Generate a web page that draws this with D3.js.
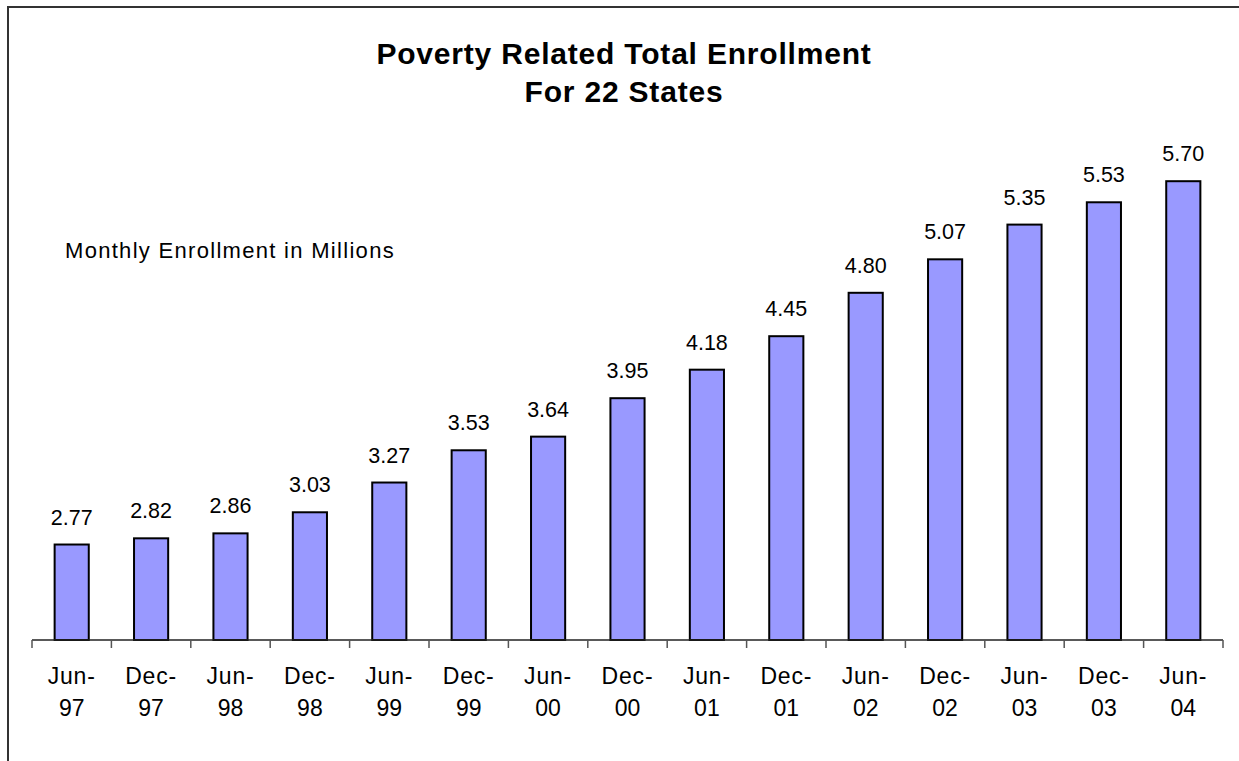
<!DOCTYPE html>
<html>
<head>
<meta charset="utf-8">
<script src="https://cdn.jsdelivr.net/npm/d3@7"></script>
<style>
body{margin:0;background:#fff;}
text{font-family:Arial,"Liberation Sans",sans-serif;fill:#000;}
</style>
</head>
<body>
<div id="chart"></div>
<script>
var months=["Jun-","Dec-","Jun-","Dec-","Jun-","Dec-","Jun-","Dec-","Jun-","Dec-","Jun-","Dec-","Jun-","Dec-","Jun-"];
var years=["97","97","98","98","99","99","00","00","01","01","02","02","03","03","04"];
var enrollment=[2.77,2.82,2.86,3.03,3.27,3.53,3.64,3.95,4.18,4.45,4.80,5.07,5.35,5.53,5.70];
var yDomain=[2,6];
var titleLines=["Poverty Related Total Enrollment","For 22 States"];
var unitLabel="Monthly Enrollment in Millions";

var W=1239,H=761;
var x0=32,x1=1223,baseY=640,topY=144;
var barColor="#9999ff";

var svg=d3.select("#chart").append("svg").attr("width",W).attr("height",H);

// frame (top + left only)
svg.append("line").attr("x1",7).attr("x2",W).attr("y1",7).attr("y2",7)
	.attr("stroke","#333").attr("stroke-width",2);
svg.append("line").attr("x1",8).attr("x2",8).attr("y1",6).attr("y2",H)
	.attr("stroke","#333").attr("stroke-width",2);

var idx=d3.range(enrollment.length);
var xScale=d3.scaleBand().domain(idx).range([x0,x1]).padding(0);
var yScale=d3.scaleLinear().domain(yDomain).range([baseY,topY]);
var barW=xScale.bandwidth()*0.43;

// bars
svg.selectAll("rect.bar").data(enrollment).enter().append("rect")
	.attr("class","bar")
	.attr("x",function(d,i){return xScale(i)+xScale.bandwidth()/2-barW/2;})
	.attr("y",function(d){return yScale(d);})
	.attr("width",barW)
	.attr("height",function(d){return baseY-yScale(d);})
	.attr("fill",barColor).attr("stroke","#000").attr("stroke-width",2);

// value labels
svg.selectAll("text.val").data(enrollment).enter().append("text")
	.attr("class","val")
	.attr("x",function(d,i){return xScale(i)+xScale.bandwidth()/2;})
	.attr("y",function(d){return yScale(d)-20;})
	.attr("text-anchor","middle").attr("font-size",21.5)
	.text(function(d){return d.toFixed(2);});

// x axis
svg.append("line").attr("x1",x0).attr("x2",x1).attr("y1",baseY).attr("y2",baseY)
	.attr("stroke","#222").attr("stroke-width",1.5);
var tickPos=idx.map(function(i){return xScale(i);}).concat([x1]);
svg.selectAll("line.tick").data(tickPos).enter().append("line")
	.attr("class","tick")
	.attr("x1",function(d){return d;}).attr("x2",function(d){return d;})
	.attr("y1",baseY).attr("y2",baseY+8)
	.attr("stroke","#555").attr("stroke-width",1.5);

var xl=svg.selectAll("text.xl").data(idx).enter().append("text")
	.attr("class","xl")
	.attr("text-anchor","middle").attr("font-size",23);
xl.append("tspan")
	.attr("x",function(i){return xScale(i)+xScale.bandwidth()/2;})
	.attr("y",684)
	.attr("letter-spacing",0.8)
	.text(function(i){return months[i];});
xl.append("tspan")
	.attr("x",function(i){return xScale(i)+xScale.bandwidth()/2;})
	.attr("y",716)
	.text(function(i){return years[i];});

// title
svg.selectAll("text.title").data(titleLines).enter().append("text")
	.attr("class","title")
	.attr("x",624).attr("y",function(d,i){return 64+i*38;})
	.attr("text-anchor","middle").attr("font-size",30).attr("font-weight","bold")
	.attr("letter-spacing",0.8)
	.text(function(d){return d;});

svg.append("text").attr("x",65).attr("y",258)
	.attr("font-size",22).attr("letter-spacing",1.3)
	.text(unitLabel);
</script>
</body>
</html>
